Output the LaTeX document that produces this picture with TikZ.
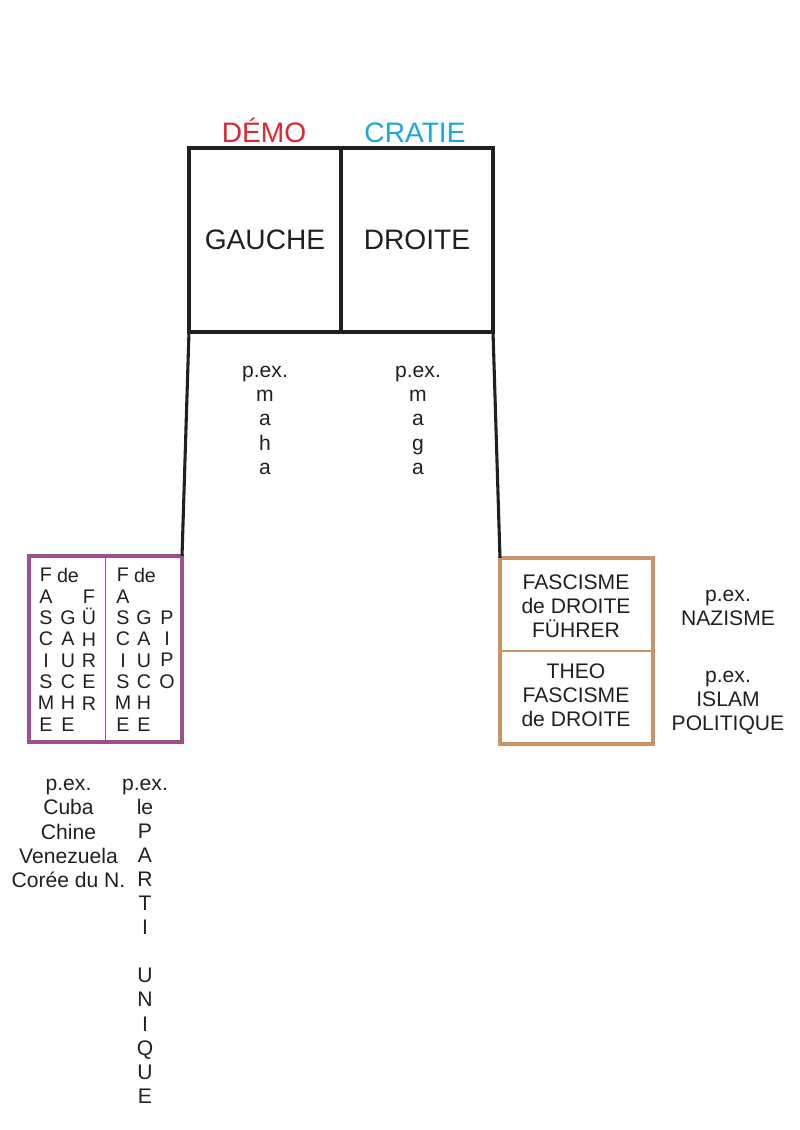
\documentclass[tikz,border=0pt]{standalone}
\usepackage{fontspec}
\setmainfont{Liberation Sans}
\definecolor{ink}{RGB}{35,31,32}
\definecolor{demored}{RGB}{218,40,48}
\definecolor{cratieblue}{RGB}{30,165,220}
\definecolor{gauchepurple}{RGB}{157,78,142}
\definecolor{droiteorange}{RGB}{201,148,104}
\begin{document}
\begin{tikzpicture}[x=0.025cm,y=-0.025cm,
  txt/.style={font=\fontsize{15}{17.07}\selectfont,align=center,anchor=base,inner sep=0pt,text=ink},
  tinytxt/.style={font=\fontsize{14}{15.15}\selectfont,align=center,anchor=base,inner sep=0pt,text=ink},
  bigtxt/.style={font=\fontsize{20}{24}\selectfont,anchor=base,inner sep=0pt},
  cell/.style={draw=ink,line width=2.4pt,outer sep=0pt,inner sep=0pt,minimum width=3.8cm,minimum height=4.6cm,text=ink,font=\fontsize{20}{24}\selectfont},
  sidebox/.style={line width=2.2pt,outer sep=0pt,inner sep=0pt,minimum width=3.825cm,minimum height=4.65cm},
  link/.style={draw=ink,line width=2.2pt}]
\useasboundingbox (0,0) rectangle (800,1130);
% top block (multi-line texts sit on the baseline of their last line)
\node[bigtxt,text=demored] (demo) at (264,142) {DÉMO};
\node[bigtxt,text=cratieblue] (cratie) at (415,142) {CRATIE};
\node[cell] (gauche) at (265,240) {GAUCHE};
\node[cell] (droite) at (417,240) {DROITE};
\node[txt] (exgauche) at (265,474) {p.ex.\\m\\a\\h\\a};
\node[txt] (exdroite) at (418,474) {p.ex.\\m\\a\\g\\a};
% left box
\node[sidebox,draw=gauchepurple] (fasg) at (105.5,649) {};
\draw[gauchepurple,line width=1.2pt] (fasg.north) -- (fasg.south);
\node[tinytxt] (lcola) at (46,731) {F\\A\\S\\C\\I\\S\\M\\E};
\node[tinytxt] (lde) at (68,582) {de};
\node[tinytxt] (lcolb) at (68,731) {G\\A\\U\\C\\H\\E};
\node[tinytxt] (lcolc) at (89,710) {F\\Ü\\H\\R\\E\\R};
\node[tinytxt] (rcola) at (123,731) {F\\A\\S\\C\\I\\S\\M\\E};
\node[tinytxt] (rde) at (145,582) {de};
\node[tinytxt] (rcolb) at (144,731) {G\\A\\U\\C\\H\\E};
\node[tinytxt] (rcolc) at (167,688) {P\\I\\P\\O};
\node[txt] (exlista) at (68.5,887) {p.ex.\\Cuba\\Chine\\Venezuela\\Corée du N.};
\node[txt] (exlistb) at (145,1103) {p.ex.\\le\\P\\A\\R\\T\\I\\ \\U\\N\\I\\Q\\U\\E};
% right box
\node[sidebox,draw=droiteorange] (fasd) at (576.5,651) {};
\draw[droiteorange,line width=1.2pt] (fasd.west) -- (fasd.east);
\node[txt] (fuehrer) at (576,637) {FASCISME\\de DROITE\\FÜHRER};
\node[txt] (theo) at (576,726) {THEO\\FASCISME\\de DROITE};
\node[txt] (nazisme) at (728,625) {p.ex.\\NAZISME};
\node[txt] (islam) at (728,730) {p.ex.\\ISLAM\\POLITIQUE};
% connectors
\draw[link] (gauche.south west) -- (fasg.north east);
\draw[link] (droite.south east) -- (fasd.north west);
\end{tikzpicture}
\end{document}
